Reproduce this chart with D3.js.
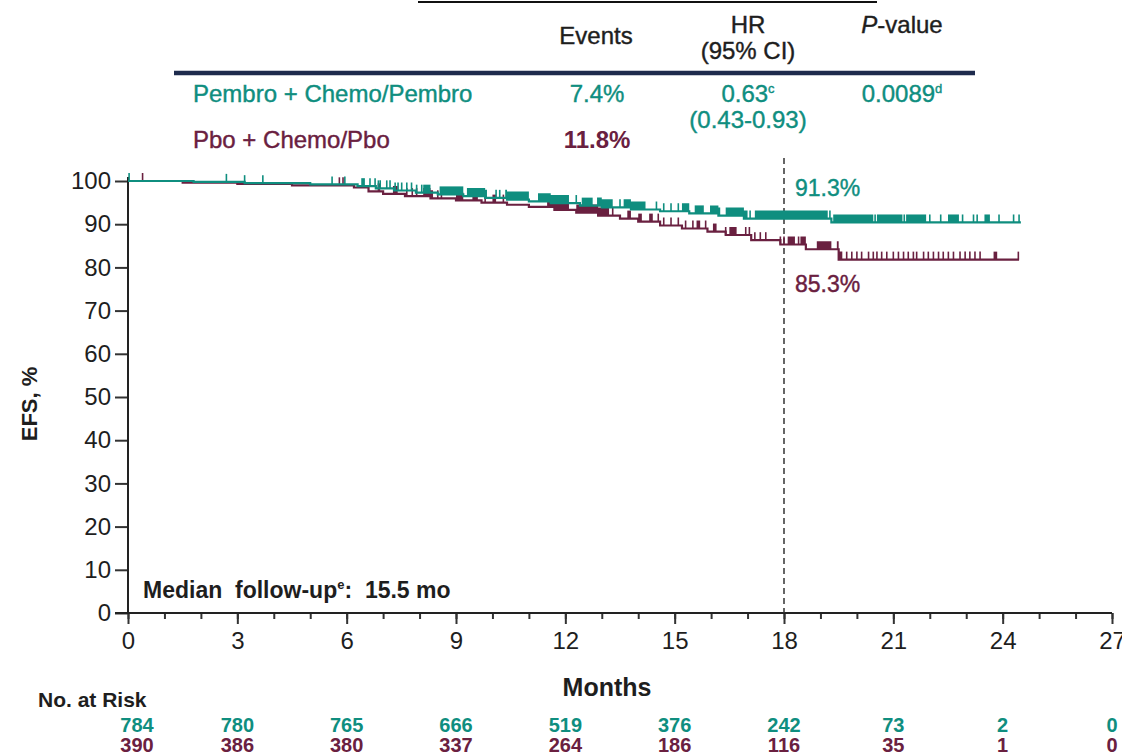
<!DOCTYPE html>
<html lang="en">
<head>
<meta charset="UTF-8">
<title>EFS KM</title>
<style>
  body { margin: 0; background: #fff; }
  svg { display: block; font-family: "Liberation Sans", Arial, sans-serif; }
</style>
</head>
<body>
<svg></svg>
<script src="https://cdn.jsdelivr.net/npm/d3@7"></script>
<script>
    /* data */
    const months = [0, 3, 6, 9, 12, 15, 18, 21, 24, 27];
    const yTicks = [0, 10, 20, 30, 40, 50, 60, 70, 80, 90, 100];

    // step curves: [month, EFS %]
    const pembroSteps = [[0,100],[1.8,99.8],[3.2,99.5],[5.0,99.2],[6.3,98.8],[6.8,98.3],[7.3,97.8],[7.9,97.3],
        [8.5,96.9],[9.2,96.5],[9.8,96.1],[10.4,95.7],[11.0,95.3],[11.6,94.9],[12.4,94.3],[13.0,93.9],[13.8,93.4],
        [14.6,93.0],[15.4,92.5],[16.2,92.0],[16.9,91.3],[19.3,90.4],[24.5,90.4]];
    const pboSteps = [[0,100],[1.5,99.6],[3.0,99.3],[4.5,99.0],[6.2,98.5],[6.6,97.6],[7.0,97.0],[7.6,96.5],
        [8.3,96.0],[9.0,95.5],[9.7,95.0],[10.4,94.5],[11.0,94.0],[11.7,93.3],[12.3,92.7],[12.9,92.0],[13.5,91.3],
        [14.0,90.6],[14.6,89.7],[15.2,89.0],[15.9,88.3],[16.4,87.5],[17.1,86.3],[17.9,85.3],[18.6,84.2],[19.5,81.8],[24.45,81.8]];

    // censor marks (single ticks) and dense runs of ticks [from, to]
    const pembroCensor = [0.03,2.7,3.2,3.7,5.6,5.95,6.64,6.78,6.87,6.92,7.1,7.19,7.33,7.41,7.51,7.65,7.78,7.92,8.06,
        10.1,10.2,12.3,13.5,14.5,14.7,14.9,15.1,17.07,19.26,20.5,21.3,22.0,22.3,22.9,23.2,23.3,23.9,24.3,24.45];
    const pembroCensorRuns = [[6.4,6.5],[8.1,8.3],[8.55,9.2],[9.3,9.85],[10.35,11.0],[11.25,12.1],[12.45,12.75],
        [12.87,13.3],[13.6,14.2],[15.2,15.4],[15.55,15.8],[15.97,16.25],[16.4,17.0],[17.2,19.2],[19.35,20.45],
        [20.55,21.25],[21.35,21.9],[22.5,22.8],[23.5,23.65]];
    const pboCensor = [0.4,5.8,5.9,7.65,7.8,7.92,8.5,8.6,9.8,10.3,13.3,14.55,14.7,14.9,15.1,15.3,15.5,15.85,16.4,
        16.95,17.05,17.2,17.35,17.5,17.9,18.0,18.4,19.72,19.86,20.0,20.13,20.32,20.45,20.55,20.68,20.82,21.0,21.14,
        21.28,21.41,21.55,21.64,21.83,21.96,22.1,22.24,22.37,22.51,22.65,22.83,22.97,23.1,23.24,23.38,24.43];
    const pboCensorRuns = [[6.85,6.92],[7.27,7.4],[8.1,8.37],[9.0,9.2],[9.45,9.6],[10.0,10.1],[11.5,12.1],[12.3,13.2],
        [13.7,13.8],[14.0,14.1],[14.3,14.4],[15.6,15.7],[16.05,16.15],[16.5,16.7],[18.1,18.3],[18.45,18.6],
        [18.9,19.3],[19.45,19.6],[23.75,23.85]];

    const riskPembro = [784, 780, 765, 666, 519, 376, 242, 73, 2, 0];
    const riskPbo = [390, 386, 380, 337, 264, 186, 116, 35, 1, 0];

    const landmark = 18;
    const pembroLabel = "91.3%";
    const pboLabel = "85.3%";

    /* layout */
    const width = 1122;
    const height = 756;
    const teal = "#0f8e7f";
    const maroon = "#6a2040";
    const ink = "#1e1e1e";
    const tickH = 8;

    const svg = d3.select("svg").attr("width", width).attr("height", height);

    const x = d3.scaleLinear().domain([0, 27]).range([128, 1112]);
    const y = d3.scaleLinear().domain([0, 100]).range([613, 181]);

    /* header table */
    svg.append("line").attr("x1", 418).attr("x2", 877).attr("y1", 2).attr("y2", 2)
        .attr("stroke", "#111").attr("stroke-width", 2);
    svg.append("line").attr("x1", 174).attr("x2", 975).attr("y1", 73).attr("y2", 73)
        .attr("stroke", "#1e2b4d").attr("stroke-width", 4.5);

    const hdr = svg.append("g").attr("font-size", 24).attr("fill", ink).attr("stroke", ink)
        .attr("stroke-width", 0.4).attr("text-anchor", "middle");
    hdr.append("text").attr("x", 596).attr("y", 44).text("Events");
    hdr.append("text").attr("x", 748).attr("y", 33).text("HR");
    hdr.append("text").attr("x", 748).attr("y", 59).text("(95% CI)");
    const pv = hdr.append("text").attr("x", 902).attr("y", 33);
    pv.append("tspan").attr("font-style", "italic").text("P");
    pv.append("tspan").text("-value");

    const row = svg.append("g").attr("font-size", 24).attr("stroke-width", 0.4);
    row.append("text").attr("x", 193).attr("y", 102).attr("fill", teal).attr("stroke", teal).text("Pembro + Chemo/Pembro");
    row.append("text").attr("x", 193).attr("y", 148).attr("fill", maroon).attr("stroke", maroon).text("Pbo + Chemo/Pbo");
    row.append("text").attr("x", 597).attr("y", 102).attr("fill", teal).attr("stroke", teal)
        .attr("text-anchor", "middle").text("7.4%");
    row.append("text").attr("x", 597).attr("y", 148).attr("fill", maroon).attr("font-weight", "bold")
        .attr("text-anchor", "middle").text("11.8%");
    const hr = row.append("text").attr("x", 748).attr("y", 102).attr("fill", teal).attr("stroke", teal)
        .attr("text-anchor", "middle");
    hr.append("tspan").text("0.63");
    hr.append("tspan").attr("font-size", 13).attr("dy", -9).text("c");
    row.append("text").attr("x", 748).attr("y", 128).attr("fill", teal).attr("stroke", teal)
        .attr("text-anchor", "middle").text("(0.43-0.93)");
    const pval = row.append("text").attr("x", 902).attr("y", 102).attr("fill", teal).attr("stroke", teal)
        .attr("text-anchor", "middle");
    pval.append("tspan").text("0.0089");
    pval.append("tspan").attr("font-size", 13).attr("dy", -9).text("d");

    /* axes */
    const yAxis = d3.axisLeft(y).tickValues(yTicks).tickSize(13).tickPadding(4);
    const gy = svg.append("g").attr("transform", `translate(${x(0)},0)`).call(yAxis);
    gy.select(".domain").remove();
    gy.append("line").attr("x1", 0).attr("x2", 0).attr("y1", y(100) - 4).attr("y2", y(0))
        .attr("stroke", "#222").attr("stroke-width", 2);
    gy.selectAll(".tick line").attr("stroke", "#333").attr("stroke-width", 2);
    gy.selectAll(".tick text").attr("font-size", 24).attr("fill", ink);

    const gxMinor = svg.append("g").attr("transform", `translate(0,${y(0)})`)
        .call(d3.axisBottom(x).tickValues(d3.range(0, 28)).tickSize(6).tickFormat(""));
    gxMinor.select(".domain").remove();
    gxMinor.selectAll(".tick line").attr("stroke", "#333").attr("stroke-width", 2);

    const gx = svg.append("g").attr("transform", `translate(0,${y(0)})`)
        .call(d3.axisBottom(x).tickValues(months).tickSize(11).tickPadding(8));
    gx.select(".domain").remove();
    gx.selectAll(".tick line").attr("stroke", "#333").attr("stroke-width", 2);
    gx.selectAll(".tick text").attr("font-size", 24).attr("fill", ink);
    svg.append("line").attr("x1", x(0) - 13).attr("x2", x(27)).attr("y1", y(0)).attr("y2", y(0))
        .attr("stroke", "#222").attr("stroke-width", 2);

    svg.append("text").attr("transform", `translate(37,${(y(0) + y(100)) / 2 + 7}) rotate(-90)`)
        .attr("text-anchor", "middle").attr("font-size", 22).attr("font-weight", "bold").attr("fill", ink)
        .text("EFS, %");
    svg.append("text").attr("x", 607).attr("y", 696).attr("text-anchor", "middle")
        .attr("font-size", 25).attr("font-weight", "bold").attr("fill", ink).text("Months");

    /* landmark */
    svg.append("line").attr("x1", x(landmark)).attr("x2", x(landmark)).attr("y1", 158).attr("y2", y(0))
        .attr("stroke", "#333").attr("stroke-width", 1.5).attr("stroke-dasharray", "6,4");
    svg.append("text").attr("x", x(landmark) + 11).attr("y", 196).attr("font-size", 23)
        .attr("fill", teal).attr("stroke", teal).attr("stroke-width", 0.4).text(pembroLabel);
    svg.append("text").attr("x", x(landmark) + 11).attr("y", 292).attr("font-size", 23)
        .attr("fill", maroon).attr("stroke", maroon).attr("stroke-width", 0.4).text(pboLabel);

    /* curves */
    const stepLine = d3.line().x(d => x(d[0])).y(d => y(d[1])).curve(d3.curveStepAfter);
    const levelAt = (steps, t) => {
        let v = steps[0][1];
        for (const s of steps) { if (s[0] <= t) v = s[1]; }
        return v;
    };

    const drawArm = (steps, censor, runs, color) => {
        const g = svg.append("g");
        g.append("path").datum(steps).attr("d", stepLine)
            .attr("fill", "none").attr("stroke", color).attr("stroke-width", 2.2);
        g.selectAll(".run").data(runs).enter().append("path")
            .attr("d", r => {
                const pts = [];
                steps.forEach(s => { if (s[0] > r[0] && s[0] < r[1]) pts.push(s[0]); });
                const xs = [r[0], ...pts, r[1]];
                let d = "";
                for (let i = 0; i < xs.length - 1; i++) {
                    const yy = y(levelAt(steps, xs[i]));
                    d += `M${x(xs[i])},${yy}H${x(xs[i + 1])}V${yy - tickH}H${x(xs[i])}Z`;
                }
                return d;
            })
            .attr("fill", color);
        g.selectAll(".cens").data(censor).enter().append("line")
            .attr("x1", t => x(t)).attr("x2", t => x(t))
            .attr("y1", t => y(levelAt(steps, t)))
            .attr("y2", t => y(levelAt(steps, t)) - tickH)
            .attr("stroke", color).attr("stroke-width", 1.6);
    };
    drawArm(pboSteps, pboCensor, pboCensorRuns, maroon);
    drawArm(pembroSteps, pembroCensor, pembroCensorRuns, teal);

    svg.append("text").attr("x", 143).attr("y", 598).attr("font-size", 23).attr("font-weight", "bold")
        .attr("fill", ink).attr("xml:space", "preserve")
        .html('Median  follow-up<tspan font-size="13" dy="-9">e</tspan><tspan dy="9">:  15.5 mo</tspan>');

    /* risk table */
    svg.append("text").attr("x", 38).attr("y", 707).attr("font-size", 21).attr("font-weight", "bold")
        .attr("fill", ink).text("No. at Risk");
    const risk = svg.append("g").attr("font-size", 20).attr("font-weight", "bold").attr("text-anchor", "middle");
    risk.selectAll(".rp").data(riskPembro).enter().append("text")
        .attr("x", (d, i) => x(months[i]) + (i === 0 ? 9 : 0)).attr("y", 732).attr("fill", teal).text(d => d);
    risk.selectAll(".rb").data(riskPbo).enter().append("text")
        .attr("x", (d, i) => x(months[i]) + (i === 0 ? 9 : 0)).attr("y", 752).attr("fill", maroon).text(d => d);
</script>
</body>
</html>
